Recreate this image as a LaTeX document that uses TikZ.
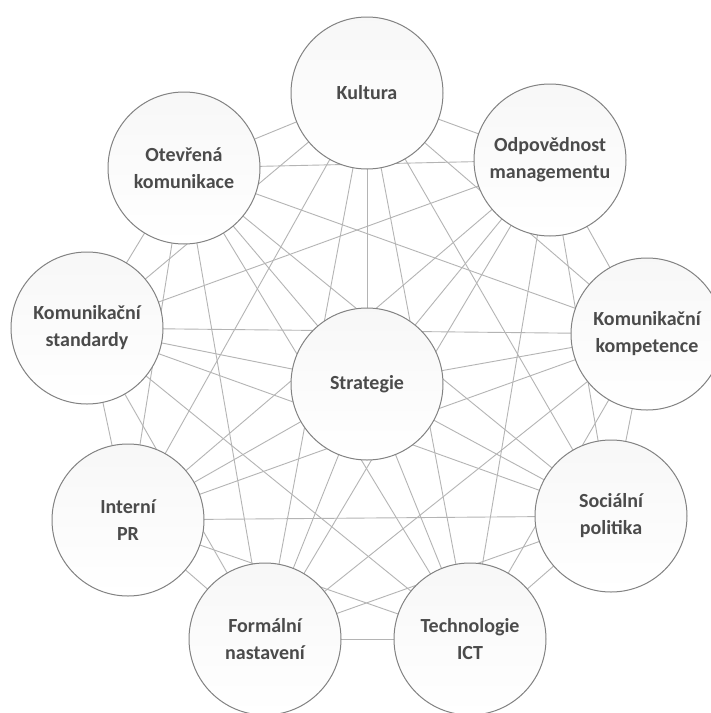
\documentclass[tikz,border=0pt]{standalone}
\usepackage{fontspec}
\setmainfont{Carlito}
\usetikzlibrary{backgrounds}
\definecolor{edgegray}{RGB}{180,180,180}
\definecolor{rimgray}{RGB}{130,130,130}
\definecolor{txtgray}{RGB}{75,75,75}
\begin{document}
\begin{tikzpicture}[x=1pt,y=-1pt,
  circ/.style={circle,draw=rimgray,line width=1pt,minimum size=152pt,inner sep=0pt,
    top color=black!3,bottom color=white,
    align=center,font=\fontsize{20}{27}\selectfont\bfseries,text=txtgray},
  edge/.style={draw=edgegray,line width=0.9pt}]
\useasboundingbox (0,0) rectangle (711,713);
\begin{scope}
\clip (0,0) rectangle (711,713);
\node[circ] (n0) at (367,93) {Kultura};
\node[circ] (n1) at (550,160) {Odpovědnost\\managementu};
\node[circ] (n2) at (647,334) {Komunikační\\kompetence};
\node[circ] (n3) at (611,516) {Sociální\\politika};
\node[circ] (n4) at (470,639) {Technologie\\ICT};
\node[circ] (n5) at (265,639) {Formální\\nastavení};
\node[circ] (n6) at (128,520) {Interní\\PR};
\node[circ] (n7) at (87,328) {Komunikační\\standardy};
\node[circ] (n8) at (184,168) {Otevřená\\komunikace};
\node[circ] (n9) at (367,384) {Strategie};
\begin{pgfonlayer}{background}
\fill[white] (0,0) rectangle (711,713);
\foreach \i in {0,...,8}{
  \pgfmathtruncatemacro\s{\i+1}
  \foreach \j in {\s,...,9}{
    \draw[edge] (n\i.center) -- (n\j.center);
  }
}
\end{pgfonlayer}
\end{scope}
\end{tikzpicture}
\end{document}
